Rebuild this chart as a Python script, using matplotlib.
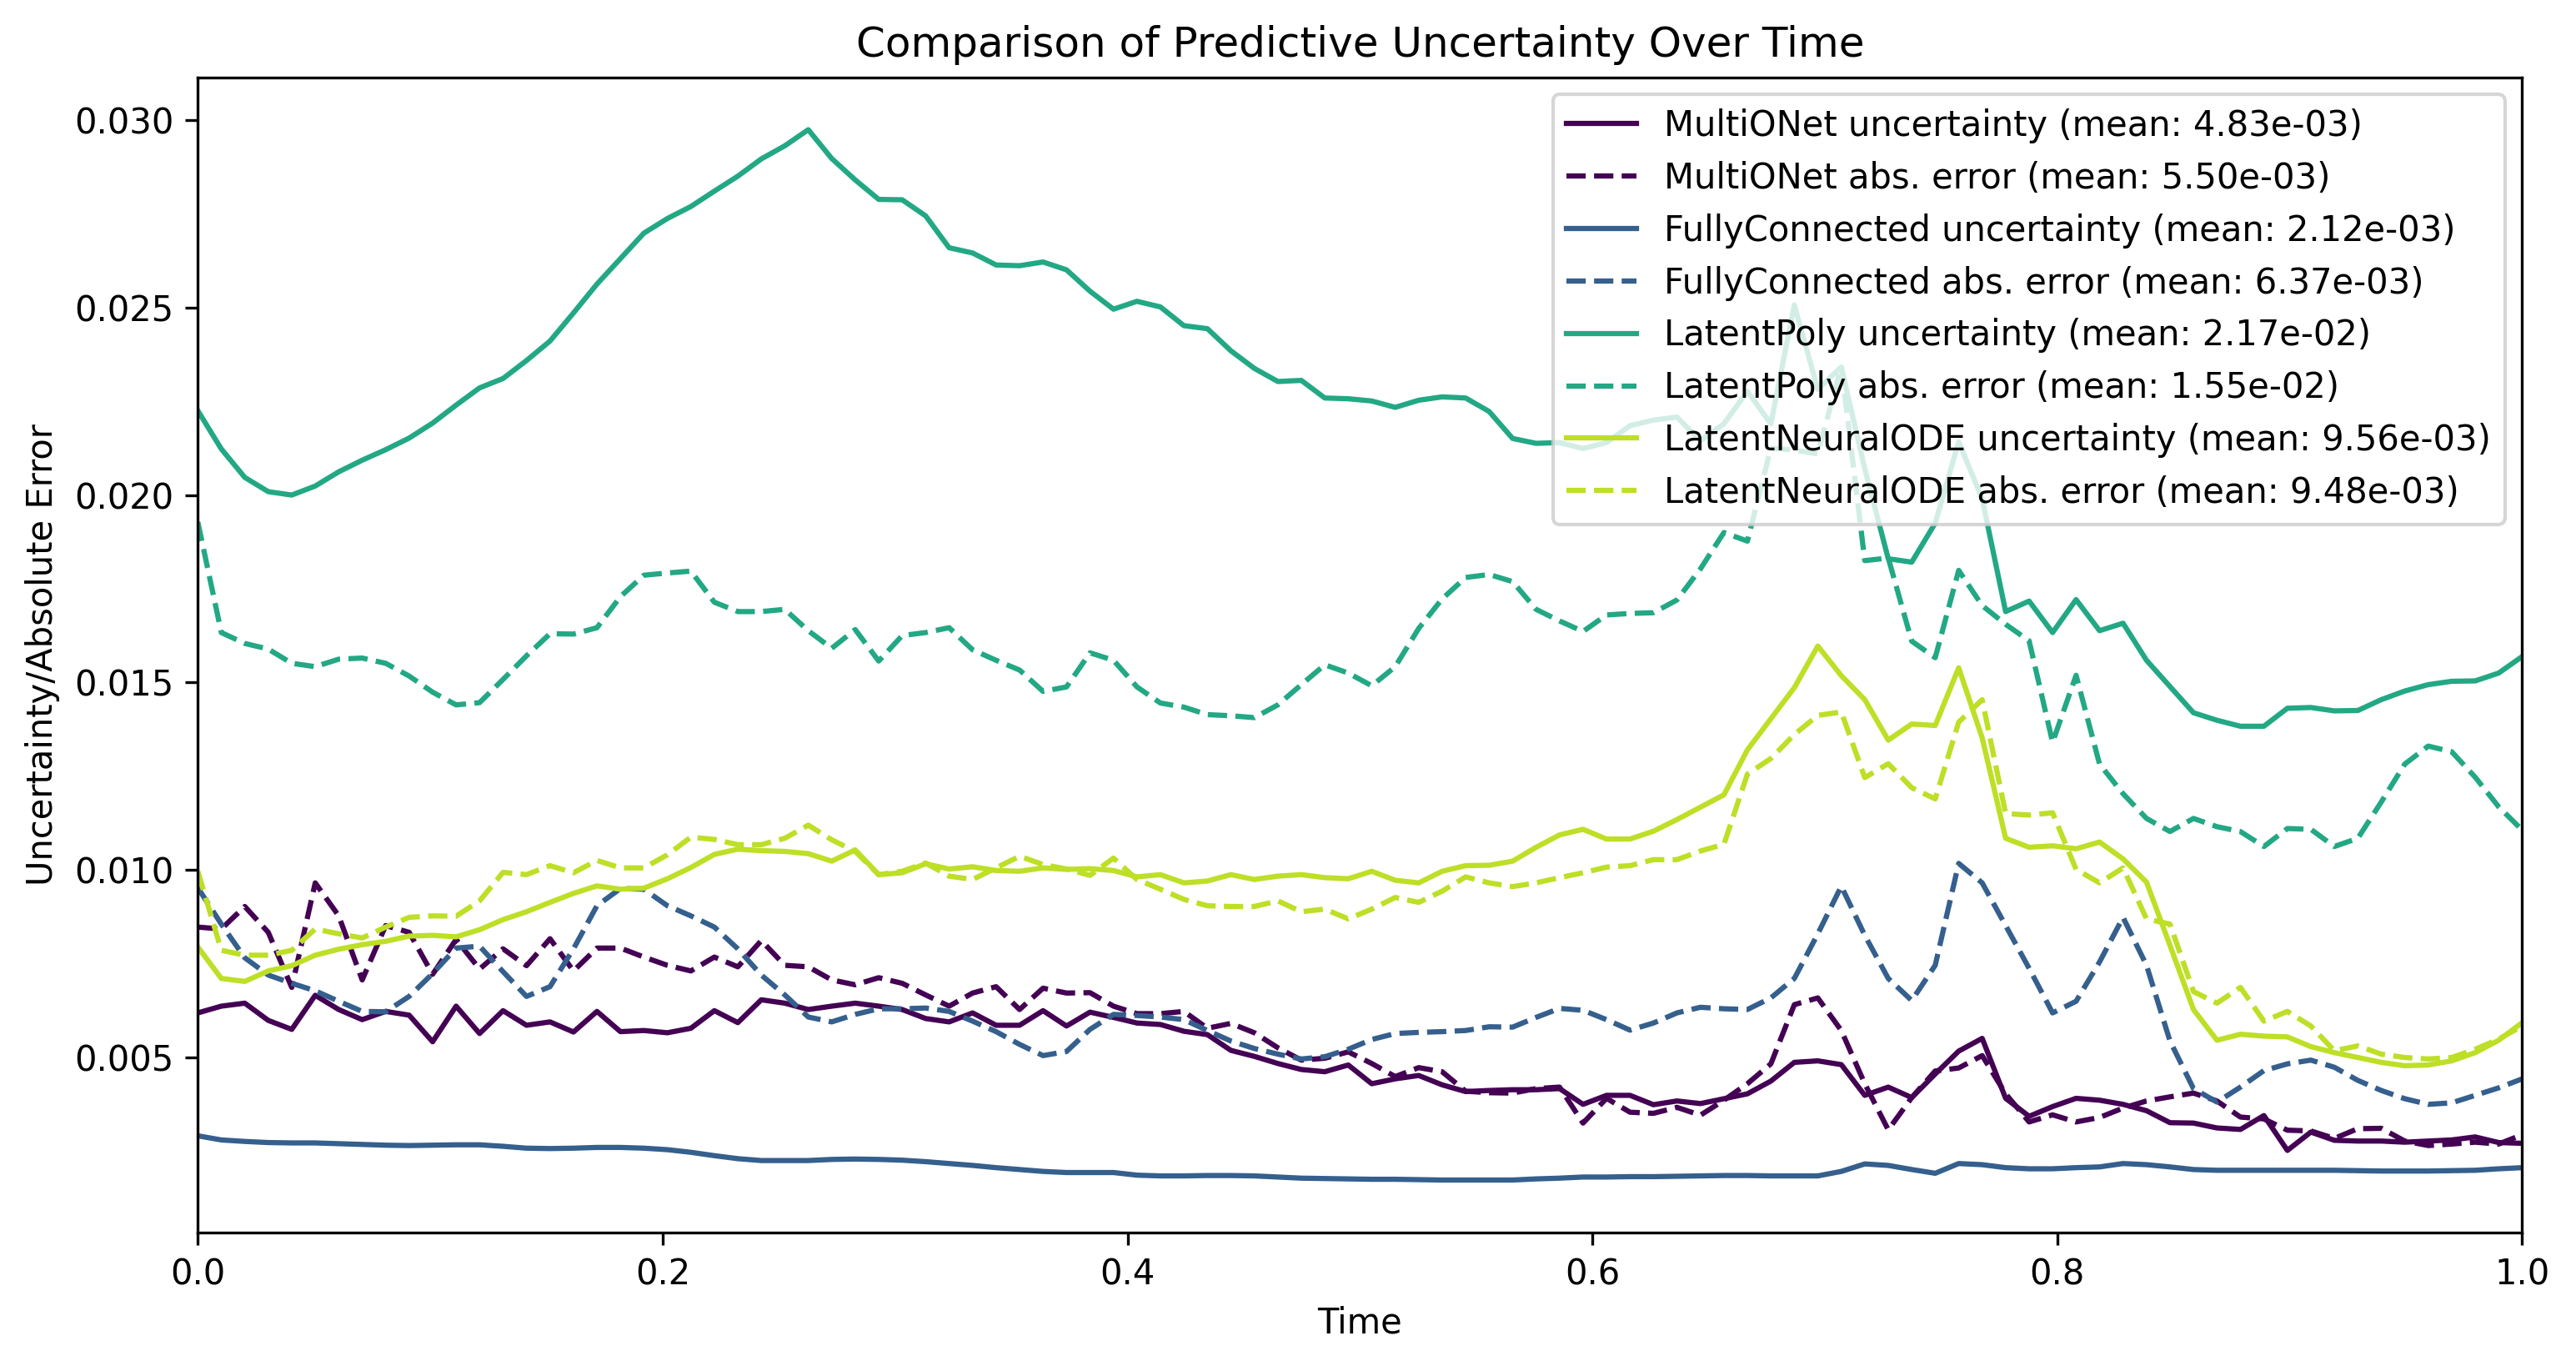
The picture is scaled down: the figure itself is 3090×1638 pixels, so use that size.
import numpy as np
import matplotlib
matplotlib.use("Agg")
import matplotlib.pyplot as plt

# time axis: 100 evenly spaced samples
time = np.linspace(0, 1, 100)

models = ["MultiONet", "FullyConnected", "LatentPoly", "LatentNeuralODE"]
unc_means = ["4.83e-03", "2.12e-03", "2.17e-02", "9.56e-03"]
err_means = ["5.50e-03", "6.37e-03", "1.55e-02", "9.48e-03"]

multionet_unc = [
    0.00618, 0.00636, 0.00644, 0.00598, 0.00574, 0.00665, 0.00627, 0.00600, 0.00622, 0.00612,
    0.00541, 0.00636, 0.00563, 0.00624, 0.00585, 0.00594, 0.00567, 0.00622, 0.00568, 0.00571,
    0.00565, 0.00577, 0.00624, 0.00592, 0.00653, 0.00644, 0.00627, 0.00636, 0.00644, 0.00636,
    0.00627, 0.00603, 0.00594, 0.00618, 0.00585, 0.00585, 0.00624, 0.00583, 0.00620, 0.00606,
    0.00591, 0.00587, 0.00569, 0.00560, 0.00518, 0.00502, 0.00483, 0.00467, 0.00461, 0.00479,
    0.00429, 0.00442, 0.00451, 0.00426, 0.00408, 0.00411, 0.00413, 0.00413, 0.00416, 0.00374,
    0.00398, 0.00398, 0.00373, 0.00383, 0.00376, 0.00389, 0.00402, 0.00436, 0.00486, 0.00490,
    0.00480, 0.00398, 0.00420, 0.00392, 0.00455, 0.00516, 0.00550, 0.00390, 0.00342, 0.00368,
    0.00390, 0.00385, 0.00374, 0.00357, 0.00325, 0.00324, 0.00311, 0.00307, 0.00344, 0.00251,
    0.00300, 0.00278, 0.00276, 0.00276, 0.00273, 0.00276, 0.00279, 0.00287, 0.00272, 0.00270,
]
multionet_err = [
    0.00847, 0.00842, 0.00902, 0.00833, 0.00686, 0.00965, 0.00877, 0.00706, 0.00851, 0.00833,
    0.00721, 0.00814, 0.00735, 0.00789, 0.00744, 0.00816, 0.00730, 0.00791, 0.00791, 0.00767,
    0.00745, 0.00730, 0.00767, 0.00741, 0.00811, 0.00745, 0.00741, 0.00706, 0.00693, 0.00712,
    0.00697, 0.00666, 0.00636, 0.00671, 0.00688, 0.00627, 0.00684, 0.00671, 0.00672, 0.00636,
    0.00616, 0.00616, 0.00622, 0.00577, 0.00590, 0.00565, 0.00525, 0.00492, 0.00497, 0.00514,
    0.00483, 0.00448, 0.00472, 0.00461, 0.00409, 0.00405, 0.00404, 0.00416, 0.00420, 0.00324,
    0.00390, 0.00353, 0.00350, 0.00366, 0.00345, 0.00385, 0.00429, 0.00482, 0.00640, 0.00658,
    0.00571, 0.00429, 0.00306, 0.00392, 0.00463, 0.00471, 0.00504, 0.00402, 0.00327, 0.00346,
    0.00327, 0.00339, 0.00364, 0.00383, 0.00394, 0.00404, 0.00383, 0.00340, 0.00335, 0.00305,
    0.00303, 0.00283, 0.00309, 0.00310, 0.00276, 0.00264, 0.00268, 0.00273, 0.00268, 0.00293,
]
fullyconnected_unc = [
    0.00290, 0.00279, 0.00275, 0.00272, 0.00271, 0.00271, 0.00269, 0.00267, 0.00265, 0.00264,
    0.00265, 0.00266, 0.00266, 0.00262, 0.00257, 0.00256, 0.00257, 0.00259, 0.00259, 0.00257,
    0.00253, 0.00246, 0.00237, 0.00229, 0.00224, 0.00224, 0.00224, 0.00227, 0.00228, 0.00227,
    0.00225, 0.00221, 0.00216, 0.00211, 0.00205, 0.00200, 0.00195, 0.00192, 0.00192, 0.00192,
    0.00185, 0.00183, 0.00183, 0.00184, 0.00184, 0.00183, 0.00180, 0.00177, 0.00176, 0.00175,
    0.00174, 0.00174, 0.00173, 0.00172, 0.00172, 0.00172, 0.00172, 0.00175, 0.00177, 0.00180,
    0.00180, 0.00181, 0.00181, 0.00182, 0.00183, 0.00184, 0.00184, 0.00183, 0.00183, 0.00183,
    0.00195, 0.00215, 0.00211, 0.00200, 0.00190, 0.00216, 0.00213, 0.00205, 0.00202, 0.00202,
    0.00205, 0.00207, 0.00216, 0.00213, 0.00207, 0.00200, 0.00198, 0.00198, 0.00198, 0.00198,
    0.00198, 0.00198, 0.00197, 0.00196, 0.00196, 0.00196, 0.00197, 0.00198, 0.00202, 0.00205,
]
fullyconnected_err = [
    0.00952, 0.00855, 0.00765, 0.00719, 0.00697, 0.00677, 0.00649, 0.00622, 0.00621, 0.00662,
    0.00723, 0.00791, 0.00796, 0.00728, 0.00662, 0.00688, 0.00789, 0.00904, 0.00950, 0.00948,
    0.00904, 0.00877, 0.00847, 0.00789, 0.00719, 0.00666, 0.00607, 0.00594, 0.00614, 0.00629,
    0.00629, 0.00631, 0.00622, 0.00596, 0.00568, 0.00534, 0.00504, 0.00515, 0.00574, 0.00614,
    0.00611, 0.00607, 0.00600, 0.00571, 0.00543, 0.00523, 0.00508, 0.00495, 0.00501, 0.00521,
    0.00547, 0.00563, 0.00566, 0.00568, 0.00571, 0.00581, 0.00580, 0.00606, 0.00630, 0.00625,
    0.00600, 0.00572, 0.00591, 0.00618, 0.00633, 0.00629, 0.00627, 0.00658, 0.00710, 0.00829,
    0.00956, 0.00825, 0.00710, 0.00651, 0.00745, 0.01017, 0.00965, 0.00851, 0.00737, 0.00618,
    0.00649, 0.00754, 0.00873, 0.00745, 0.00543, 0.00416, 0.00380, 0.00420, 0.00464, 0.00482,
    0.00492, 0.00473, 0.00438, 0.00411, 0.00389, 0.00374, 0.00378, 0.00398, 0.00418, 0.00442,
]
latentpoly_unc = [
    0.02225, 0.02123, 0.02047, 0.02009, 0.02000, 0.02024, 0.02062, 0.02093, 0.02121, 0.02152,
    0.02192, 0.02240, 0.02286, 0.02311, 0.02359, 0.02411, 0.02486, 0.02563, 0.02631, 0.02699,
    0.02738, 0.02770, 0.02811, 0.02851, 0.02897, 0.02932, 0.02975, 0.02898, 0.02841, 0.02789,
    0.02788, 0.02745, 0.02660, 0.02646, 0.02614, 0.02612, 0.02622, 0.02601, 0.02544, 0.02496,
    0.02517, 0.02502, 0.02452, 0.02444, 0.02385, 0.02338, 0.02303, 0.02306, 0.02259, 0.02257,
    0.02251, 0.02234, 0.02253, 0.02262, 0.02259, 0.02223, 0.02151, 0.02138, 0.02140, 0.02124,
    0.02140, 0.02185, 0.02200, 0.02208, 0.02145, 0.02190, 0.02277, 0.02190, 0.02507, 0.02282,
    0.02342, 0.02070, 0.01830, 0.01821, 0.01925, 0.02142, 0.01990, 0.01689, 0.01717, 0.01633,
    0.01721, 0.01638, 0.01658, 0.01559, 0.01489, 0.01419, 0.01399, 0.01383, 0.01383, 0.01431,
    0.01433, 0.01424, 0.01425, 0.01454, 0.01477, 0.01494, 0.01503, 0.01504, 0.01525, 0.01569,
]
latentpoly_err = [
    0.01928, 0.01633, 0.01604, 0.01589, 0.01551, 0.01542, 0.01562, 0.01565, 0.01551, 0.01517,
    0.01474, 0.01440, 0.01446, 0.01508, 0.01571, 0.01630, 0.01629, 0.01646, 0.01729, 0.01786,
    0.01792, 0.01797, 0.01714, 0.01689, 0.01689, 0.01695, 0.01638, 0.01591, 0.01641, 0.01557,
    0.01625, 0.01633, 0.01646, 0.01587, 0.01559, 0.01533, 0.01476, 0.01488, 0.01579, 0.01559,
    0.01488, 0.01445, 0.01434, 0.01414, 0.01411, 0.01406, 0.01440, 0.01494, 0.01547, 0.01525,
    0.01491, 0.01542, 0.01644, 0.01723, 0.01780, 0.01788, 0.01769, 0.01695, 0.01664, 0.01636,
    0.01680, 0.01684, 0.01686, 0.01720, 0.01803, 0.01900, 0.01877, 0.02125, 0.02120, 0.02110,
    0.02344, 0.01825, 0.01832, 0.01610, 0.01566, 0.01799, 0.01705, 0.01655, 0.01611, 0.01340,
    0.01519, 0.01282, 0.01203, 0.01137, 0.01102, 0.01137, 0.01115, 0.01102, 0.01062, 0.01110,
    0.01108, 0.01062, 0.01084, 0.01181, 0.01282, 0.01330, 0.01315, 0.01247, 0.01168, 0.01106,
]
latentneuralode_unc = [
    0.00794, 0.00710, 0.00702, 0.00730, 0.00744, 0.00772, 0.00788, 0.00800, 0.00809, 0.00823,
    0.00825, 0.00821, 0.00840, 0.00867, 0.00888, 0.00913, 0.00937, 0.00957, 0.00948, 0.00951,
    0.00976, 0.01006, 0.01041, 0.01055, 0.01051, 0.01049, 0.01043, 0.01023, 0.01053, 0.00987,
    0.00992, 0.01016, 0.01002, 0.01008, 0.00998, 0.00996, 0.01005, 0.01001, 0.01003, 0.00998,
    0.00981, 0.00987, 0.00965, 0.00970, 0.00987, 0.00974, 0.00983, 0.00987, 0.00979, 0.00976,
    0.00996, 0.00972, 0.00965, 0.00996, 0.01011, 0.01012, 0.01023, 0.01060, 0.01093, 0.01108,
    0.01082, 0.01082, 0.01103, 0.01134, 0.01167, 0.01200, 0.01320, 0.01403, 0.01486, 0.01597,
    0.01518, 0.01454, 0.01346, 0.01389, 0.01385, 0.01539, 0.01352, 0.01084, 0.01060, 0.01064,
    0.01056, 0.01074, 0.01029, 0.00967, 0.00798, 0.00627, 0.00545, 0.00561, 0.00556, 0.00554,
    0.00528, 0.00512, 0.00499, 0.00486, 0.00477, 0.00479, 0.00490, 0.00512, 0.00545, 0.00592,
]
latentneuralode_err = [
    0.00996, 0.00785, 0.00772, 0.00772, 0.00785, 0.00842, 0.00829, 0.00818, 0.00847, 0.00873,
    0.00877, 0.00876, 0.00917, 0.00993, 0.00987, 0.01011, 0.00992, 0.01025, 0.01005, 0.01005,
    0.01040, 0.01087, 0.01081, 0.01067, 0.01067, 0.01084, 0.01119, 0.01080, 0.01049, 0.00987,
    0.00996, 0.01018, 0.00983, 0.00974, 0.01005, 0.01036, 0.01014, 0.01002, 0.00985, 0.01031,
    0.00974, 0.00948, 0.00921, 0.00904, 0.00902, 0.00902, 0.00917, 0.00888, 0.00895, 0.00869,
    0.00895, 0.00926, 0.00913, 0.00943, 0.00981, 0.00965, 0.00955, 0.00965, 0.00979, 0.00992,
    0.01007, 0.01011, 0.01027, 0.01027, 0.01050, 0.01068, 0.01255, 0.01297, 0.01361, 0.01412,
    0.01421, 0.01246, 0.01283, 0.01219, 0.01189, 0.01394, 0.01454, 0.01150, 0.01146, 0.01152,
    0.01001, 0.00965, 0.01005, 0.00869, 0.00855, 0.00675, 0.00644, 0.00686, 0.00596, 0.00622,
    0.00583, 0.00517, 0.00530, 0.00508, 0.00499, 0.00495, 0.00499, 0.00521, 0.00548, 0.00583,
]

uncertainties = [multionet_unc, fullyconnected_unc, latentpoly_unc, latentneuralode_unc]
errors = [multionet_err, fullyconnected_err, latentpoly_err, latentneuralode_err]

colors = plt.cm.viridis(np.linspace(0, 0.9, len(models)))

fig, ax = plt.subplots(figsize=(10.3, 5.46), dpi=300)
fig.subplots_adjust(left=0.0768, right=0.9791, bottom=0.0977, top=0.9435)

for name, unc, err, um, em, c in zip(models, uncertainties, errors, unc_means, err_means, colors):
    ax.plot(time, unc, color=c, linestyle="-", label=f"{name} uncertainty (mean: {um})")
    ax.plot(time, err, color=c, linestyle="--", label=f"{name} abs. error (mean: {em})")

ax.set_xlim(0, 1)
ax.set_title("Comparison of Predictive Uncertainty Over Time")
ax.set_xlabel("Time")
ax.set_ylabel("Uncertainty/Absolute Error")
ax.legend(loc="upper right")

fig.savefig("out.png", dpi=300)
